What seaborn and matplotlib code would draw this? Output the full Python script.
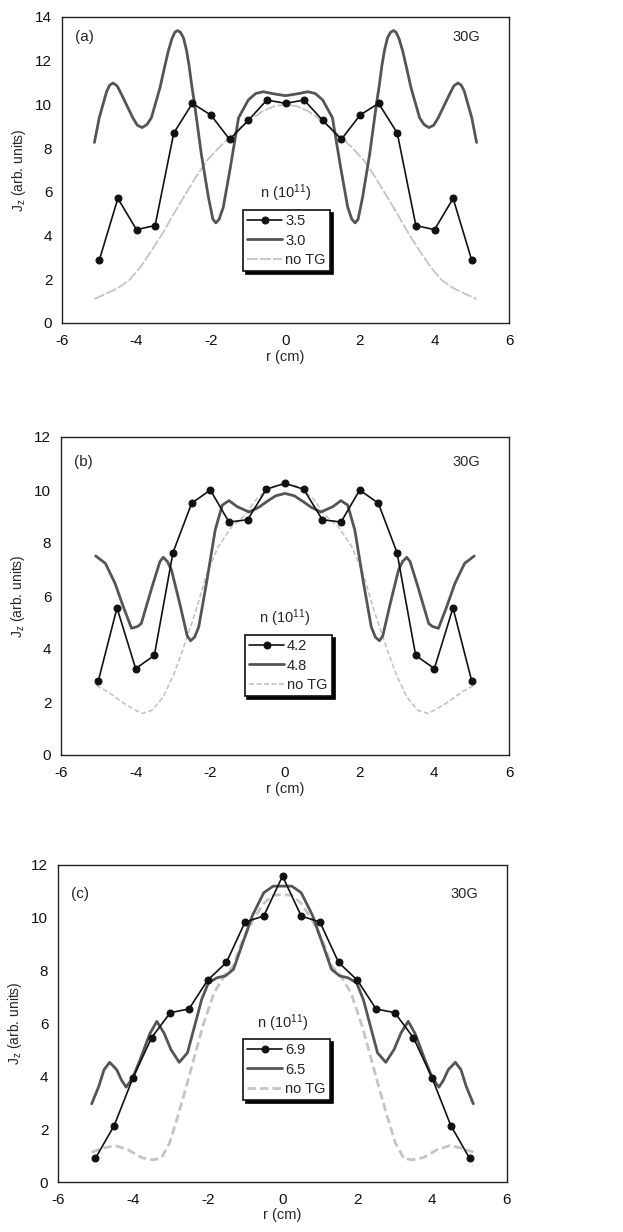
import matplotlib
matplotlib.use("Agg")
import matplotlib.pyplot as plt
import seaborn as sns
import pandas as pd

# ---------------- panel (a) ----------------
r_marked = [-5.0, -4.5, -4.0, -3.5, -3.0, -2.5, -2.0, -1.5, -1.0, -0.5, 0.0,
            0.5, 1.0, 1.5, 2.0, 2.5, 3.0, 3.5, 4.0, 4.5, 5.0]

a_n35 = [2.87, 5.70, 4.27, 4.46, 8.69, 10.05, 9.51, 8.40, 9.27, 10.20, 10.05,
         10.20, 9.27, 8.40, 9.51, 10.05, 8.69, 4.46, 4.27, 5.70, 2.87]

a_r30 = [-5.13, -5.0, -4.8, -4.72, -4.63, -4.52, -4.4, -4.1, -3.98, -3.85, -3.72,
         -3.6, -3.37, -3.26, -3.15, -3.05, -2.97, -2.9, -2.82, -2.74, -2.66, -2.59,
         -2.52, -2.44, -2.26, -2.07, -1.95, -1.87, -1.78, -1.67, -1.48, -1.26, -1.0,
         -0.8, -0.6, -0.3, 0.0,
         0.3, 0.6, 0.8, 1.0, 1.26, 1.48, 1.67, 1.78, 1.87, 1.95, 2.07, 2.26, 2.44,
         2.52, 2.59, 2.66, 2.74, 2.82, 2.9, 2.97, 3.05, 3.15, 3.26, 3.37, 3.6, 3.72,
         3.85, 3.98, 4.1, 4.4, 4.52, 4.63, 4.72, 4.8, 5.0, 5.13]
a_n30 = [8.26, 9.39, 10.60, 10.88, 10.98, 10.85, 10.45, 9.39, 9.05, 8.94, 9.08,
         9.39, 10.76, 11.60, 12.42, 13.00, 13.30, 13.38, 13.30, 13.05, 12.50, 11.80,
         10.90, 10.00, 7.73, 5.76, 4.75, 4.58, 4.75, 5.30, 7.12, 9.39, 10.20,
         10.50, 10.58, 10.48, 10.40,
         10.48, 10.58, 10.50, 10.20, 9.39, 7.12, 5.30, 4.75, 4.58, 4.75, 5.76, 7.73, 10.00,
         10.90, 11.80, 12.50, 13.05, 13.30, 13.38, 13.30, 13.00, 12.42, 11.60, 10.76, 9.39, 9.08,
         8.94, 9.05, 9.39, 10.45, 10.85, 10.98, 10.88, 10.60, 9.39, 8.26]

a_r_notg = [-5.13, -4.8, -4.5, -4.2, -3.9, -3.6, -3.3, -3.0, -2.7, -2.4, -2.1, -1.8,
            -1.5, -1.2, -0.9, -0.6, -0.3, 0.0, 0.3, 0.6, 0.9, 1.2, 1.5, 1.8, 2.1,
            2.4, 2.7, 3.0, 3.3, 3.6, 3.9, 4.2, 4.5, 4.8, 5.13]
a_notg = [1.10, 1.35, 1.60, 1.95, 2.55, 3.30, 4.10, 5.00, 5.85, 6.70, 7.45, 8.00,
          8.50, 8.95, 9.35, 9.70, 9.92, 10.00, 9.92, 9.70, 9.35, 8.95, 8.50, 8.00, 7.45,
          6.70, 5.85, 5.00, 4.10, 3.30, 2.55, 1.95, 1.60, 1.35, 1.10]

# ---------------- panel (b) ----------------
b_n42 = [2.80, 5.55, 3.26, 3.76, 7.64, 9.50, 10.00, 8.79, 8.88, 10.03, 10.25,
         10.03, 8.88, 8.79, 10.00, 9.50, 7.64, 3.76, 3.26, 5.55, 2.80]

b_r48 = [-5.07, -4.81, -4.55, -4.33, -4.11, -3.95, -3.85, -3.56, -3.35, -3.26, -3.15,
         -3.04, -2.82, -2.62, -2.53, -2.42, -2.31, -2.09, -1.87, -1.68, -1.5, -1.28,
         -0.96, -0.7, -0.5, -0.25, 0.0, 0.25, 0.5, 0.7, 0.96, 1.28, 1.5, 1.68, 1.87,
         2.09, 2.31, 2.42, 2.53, 2.62, 2.82, 3.04, 3.15, 3.26, 3.35, 3.56, 3.85, 3.95,
         4.11, 4.33, 4.55, 4.81, 5.07]
b_n48 = [7.51, 7.23, 6.47, 5.59, 4.78, 4.85, 4.96, 6.35, 7.30, 7.46, 7.30,
         6.98, 5.72, 4.50, 4.31, 4.45, 4.84, 6.60, 8.49, 9.43, 9.60, 9.37,
         9.17, 9.35, 9.55, 9.78, 9.87, 9.78, 9.55, 9.35, 9.17, 9.37, 9.60, 9.43, 8.49,
         6.60, 4.84, 4.45, 4.31, 4.50, 5.72, 6.98, 7.30, 7.46, 7.30, 6.35, 4.96, 4.85,
         4.78, 5.59, 6.47, 7.23, 7.51]

b_r_notg = [-5.05, -4.74, -4.37, -4.0, -3.82, -3.56, -3.26, -2.97, -2.68, -2.38, -2.09,
            -1.79, -1.43, -1.06, -0.8, -0.5, -0.25, 0.0, 0.25, 0.5, 0.8, 1.06, 1.43,
            1.79, 2.09, 2.38, 2.68, 2.97, 3.26, 3.56, 3.82, 4.0, 4.37, 4.74, 5.05]
b_notg = [2.62, 2.38, 2.00, 1.69, 1.57, 1.69, 2.19, 3.07, 4.21, 5.47, 6.85,
          7.86, 8.61, 9.06, 9.60, 10.00, 10.18, 10.22, 10.18, 10.00, 9.60, 9.06, 8.61,
          7.86, 6.85, 5.47, 4.21, 3.07, 2.19, 1.69, 1.57, 1.69, 2.00, 2.38, 2.62]

# ---------------- panel (c) ----------------
c_n69 = [0.90, 2.13, 3.93, 5.46, 6.41, 6.55, 7.64, 8.31, 9.84, 10.07, 11.58,
         10.07, 9.84, 8.31, 7.64, 6.55, 6.41, 5.46, 3.93, 2.13, 0.90]

c_r65 = [-5.1, -4.91, -4.77, -4.62, -4.43, -4.3, -4.18, -4.0, -3.8, -3.55, -3.36,
         -3.17, -2.98, -2.76, -2.54, -2.35, -2.16, -1.98, -1.75, -1.53, -1.31, -1.09,
         -0.8, -0.5, -0.25, 0.0, 0.25, 0.5, 0.8, 1.09, 1.31, 1.53, 1.75, 1.98, 2.16,
         2.35, 2.54, 2.76, 2.98, 3.17, 3.36, 3.55, 3.8, 4.0, 4.18, 4.3, 4.43, 4.62,
         4.77, 4.91, 5.1]
c_n65 = [2.96, 3.62, 4.25, 4.53, 4.25, 3.85, 3.59, 3.95, 4.65, 5.60, 6.08,
         5.65, 5.01, 4.53, 4.89, 5.90, 6.91, 7.54, 7.73, 7.80, 8.05, 8.94,
         10.10, 10.95, 11.20, 11.20, 11.20, 10.95, 10.10, 8.94, 8.05, 7.80, 7.73, 7.54, 6.91,
         5.90, 4.89, 4.53, 5.01, 5.65, 6.08, 5.60, 4.65, 3.95, 3.59, 3.85, 4.25, 4.53,
         4.25, 3.62, 2.96]

c_r_notg = [-5.1, -4.8, -4.47, -4.13, -3.76, -3.46, -3.24, -3.02, -2.8, -2.57, -2.35,
            -2.13, -1.83, -1.53, -1.31, -1.09, -0.8, -0.5, -0.25, 0.0, 0.25, 0.5, 0.8,
            1.09, 1.31, 1.53, 1.83, 2.13, 2.35, 2.57, 2.8, 3.02, 3.24, 3.46, 3.76, 4.13,
            4.47, 4.8, 5.1]
c_notg = [1.13, 1.28, 1.38, 1.22, 0.92, 0.84, 0.90, 1.47, 2.48, 3.62, 4.76,
          5.90, 7.16, 7.86, 8.18, 9.06, 9.90, 10.55, 10.85, 10.88, 10.85, 10.55, 9.90,
          9.06, 8.18, 7.86, 7.16, 5.90, 4.76, 3.62, 2.48, 1.47, 0.90, 0.84, 0.92, 1.22,
          1.38, 1.28, 1.13]

panel_tags = ["(a)", "(b)", "(c)"]
field_label = "30G"
density_labels = [("3.5", "3.0"), ("4.2", "4.8"), ("6.9", "6.5")]
notg_label = "no TG"
legend_title = "n (10$^{11}$)"
x_ticks = [-6, -4, -2, 0, 2, 4, 6]
y_tops = [14, 12, 12]

sns.set_theme(style="white")
plt.rcParams["font.family"] = ["Liberation Sans", "DejaVu Sans"]
plt.rcParams["mathtext.fontset"] = "custom"
plt.rcParams["mathtext.rm"] = "Liberation Sans"
plt.rcParams["mathtext.it"] = "Liberation Sans"
plt.rcParams["axes.unicode_minus"] = False

fig = plt.figure(figsize=(6.23, 12.32), dpi=100)
W, H = 623.0, 1232.0
# axes boxes in pixels: left, right, top, bottom
boxes = [(62, 509, 17, 323), (61, 509, 437, 755), (58, 507, 865, 1182)]

marked_series = [a_n35, b_n42, c_n69]
dense_series = [(a_r30, a_n30), (b_r48, b_n48), (c_r65, c_n65)]
notg_series = [(a_r_notg, a_notg), (b_r_notg, b_notg), (c_r_notg, c_notg)]
notg_styles = [dict(lw=1.3, ls=(0, (6, 1.2))), dict(lw=1.2, ls=(0, (3, 1.5))),
               dict(lw=2.0, ls=(0, (3, 1.5)))]
legend_anchor = [(0.405, 0.369), (0.41, 0.377), (0.412, 0.451)]
title_y = [0.425, 0.43, 0.50]
tag_y = [0.935, 0.92, 0.91]

for i, (l, r, t, b) in enumerate(boxes):
    ax = fig.add_axes([l / W, (H - b) / H, (r - l) / W, (b - t) / H])

    df_m = pd.DataFrame({"r": r_marked, "J": marked_series[i]})
    df_d = pd.DataFrame({"r": dense_series[i][0], "J": dense_series[i][1]})
    df_n = pd.DataFrame({"r": notg_series[i][0], "J": notg_series[i][1]})

    sns.lineplot(data=df_n, x="r", y="J", ax=ax, color="#c4c4c4",
                 linewidth=notg_styles[i]["lw"], linestyle=notg_styles[i]["ls"],
                 estimator=None, sort=False, label=notg_label, zorder=1)
    sns.lineplot(data=df_d, x="r", y="J", ax=ax, color="#555555", linewidth=2.0,
                 estimator=None, sort=False, label=density_labels[i][1], zorder=2)
    sns.lineplot(data=df_m, x="r", y="J", ax=ax, color="#111111", linewidth=1.2,
                 marker="o", markersize=5, markeredgecolor="#111111",
                 markerfacecolor="#111111", estimator=None, sort=False,
                 label=density_labels[i][0], zorder=3)

    ax.set_xlim(-6, 6)
    ax.set_ylim(0, y_tops[i])
    ax.set_xticks(x_ticks)
    ax.set_yticks(list(range(0, y_tops[i] + 1, 2)))
    ax.tick_params(axis="both", direction="in", length=4, width=0.9,
                   labelsize=11, pad=7, colors="#111111")
    ax.tick_params(axis="x", pad=8)
    for s in ax.spines.values():
        s.set_color("#222222")
        s.set_linewidth(1.0)
    ax.set_xlabel("r (cm)", fontsize=10.5, labelpad=1)
    ax.set_ylabel("J$_\\mathrm{z}$ (arb. units)", fontsize=10, labelpad=5)

    ax.text(0.030, tag_y[i], panel_tags[i], transform=ax.transAxes,
            fontsize=11, ha="left", va="center")
    ax.text(0.935, tag_y[i], field_label, transform=ax.transAxes,
            fontsize=10.5, ha="right", va="center")
    ax.text(0.5, title_y[i], legend_title, transform=ax.transAxes,
            fontsize=10.5, ha="center", va="center")

    handles, labels = ax.get_legend_handles_labels()
    order = [labels.index(density_labels[i][0]), labels.index(density_labels[i][1]),
             labels.index(notg_label)]
    leg = ax.legend([handles[k] for k in order], [labels[k] for k in order],
                    loc="upper left", bbox_to_anchor=legend_anchor[i],
                    fontsize=10.5, frameon=True, fancybox=False,
                    shadow={"color": "black", "alpha": 1.0, "shade": 0.0},
                    handlelength=2.4, handletextpad=0.2, borderpad=0.3,
                    labelspacing=0.35, borderaxespad=0.0)
    leg.get_frame().set_edgecolor("#111111")
    leg.get_frame().set_linewidth(1.2)
    leg.get_frame().set_alpha(1.0)

fig.savefig("out.png", dpi=100)
